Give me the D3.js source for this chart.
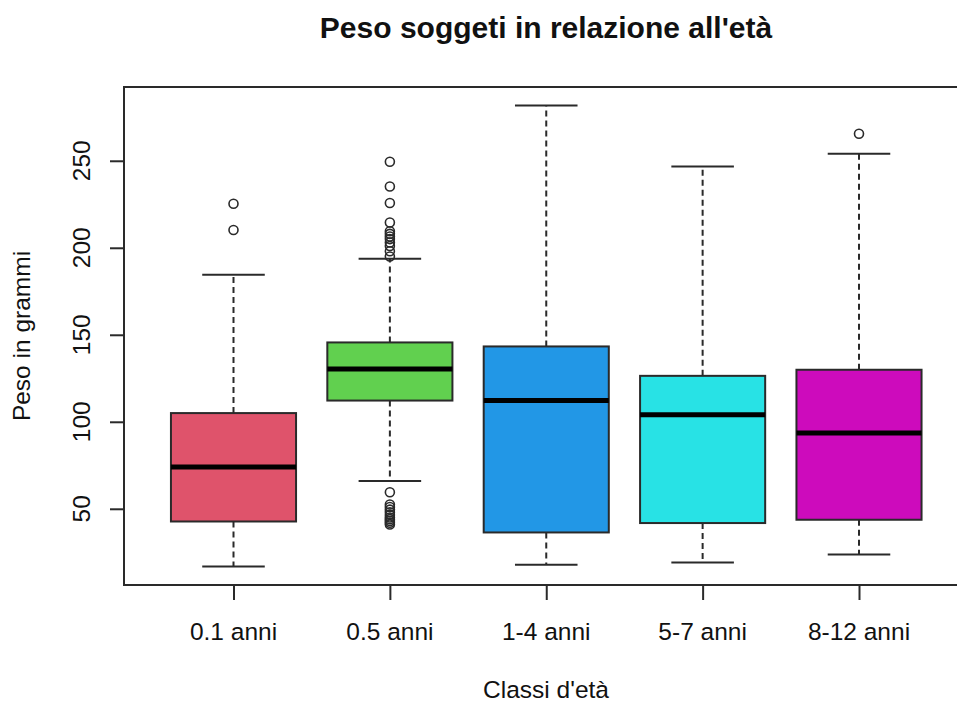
<!DOCTYPE html>
<html>
<head>
<meta charset="utf-8">
<script src="https://cdn.jsdelivr.net/npm/d3@7"></script>
<style>
  html, body { margin: 0; padding: 0; background: #fff; }
  svg { display: block; }
  text { font-family: "Liberation Sans", Arial, sans-serif; fill: #111; }
</style>
</head>
<body>
<svg id="chart" width="957" height="702"></svg>
<script>
// Weight (grams) by age class: box statistics per class
const categories = ["0.1 anni", "0.5 anni", "1-4 anni", "5-7 anni", "8-12 anni"];
const whiskerLow  = [16.8, 65.9, 17.8, 19.2, 23.7];
const q1          = [42.7, 112.2, 36.4, 41.8, 43.7];
const medians     = [74.0, 130.3, 112.2, 104.0, 93.5];
const q3          = [105.0, 145.6, 143.3, 126.4, 129.9];
const whiskerHigh = [184.5, 193.7, 281.8, 246.7, 254.0];
const outliers01  = [225.3, 210.2];
const outliers05  = [249.4, 235.2, 225.7, 214.5, 209.5, 208, 206.5, 205, 203, 201, 198, 195,
                     59.5, 52.5, 51, 49.5, 48, 46.5, 45, 44, 43, 42, 41];
const outliers14  = [];
const outliers57  = [];
const outliers812 = [265.5];
const outliers    = [outliers01, outliers05, outliers14, outliers57, outliers812];
const fills       = ["#DF536B", "#61D04F", "#2297E6", "#28E2E5", "#CD0BBC"];
const yTicks      = [50, 100, 150, 200, 250];

const svg = d3.select("#chart");

const frame = { left: 124, top: 87, right: 968, bottom: 585 };

// y domain: data range padded by 4% on each side
const dataMin = d3.min(whiskerLow), dataMax = d3.max(whiskerHigh);
const pad = (dataMax - dataMin) * 0.04;
const y = d3.scaleLinear().domain([dataMin - pad, dataMax + pad]).range([frame.bottom, frame.top]);
const x = d3.scaleLinear().domain([1, 5]).range([233.5, 859]);
const boxW = x(1.8) - x(1);   // 0.8 of a class slot
const capW = boxW / 2;

const ink = "#2a2a2a";
const axisFont = 24.5;

// plot frame
svg.append("rect")
  .attr("x", frame.left).attr("y", frame.top)
  .attr("width", frame.right - frame.left).attr("height", frame.bottom - frame.top)
  .attr("fill", "none").attr("stroke", ink).attr("stroke-width", 2);

// y axis
const yAxis = svg.append("g").attr("transform", `translate(${frame.left},0)`)
  .call(d3.axisLeft(y).tickValues(yTicks).tickSize(14).tickSizeOuter(0).tickFormat(d3.format("d")));
yAxis.select(".domain").remove();
yAxis.selectAll(".tick line").attr("stroke", ink).attr("stroke-width", 2);
yAxis.selectAll(".tick text").remove();
svg.append("g").selectAll("text").data(yTicks).join("text")
  .attr("transform", d => `translate(90,${y(d)}) rotate(-90)`)
  .attr("text-anchor", "middle")
  .attr("font-size", axisFont)
  .text(d => d);

// x axis
const xAxis = svg.append("g").attr("transform", `translate(0,${frame.bottom})`)
  .call(d3.axisBottom(x).tickValues([1, 2, 3, 4, 5]).tickSize(15).tickSizeOuter(0).tickFormat(""));
xAxis.select(".domain").remove();
xAxis.selectAll(".tick line").attr("stroke", ink).attr("stroke-width", 2);
svg.append("g").selectAll("text").data(categories).join("text")
  .attr("x", (d, i) => x(i + 1)).attr("y", 640)
  .attr("text-anchor", "middle")
  .attr("font-size", axisFont)
  .text(d => d);

// boxes
const g = svg.append("g");
categories.forEach((c, i) => {
  const cx = x(i + 1);
  const dash = "6,4";
  // whiskers
  g.append("line").attr("x1", cx).attr("x2", cx).attr("y1", y(q3[i])).attr("y2", y(whiskerHigh[i]))
    .attr("stroke", ink).attr("stroke-width", 2).attr("stroke-dasharray", dash);
  g.append("line").attr("x1", cx).attr("x2", cx).attr("y1", y(q1[i])).attr("y2", y(whiskerLow[i]))
    .attr("stroke", ink).attr("stroke-width", 2).attr("stroke-dasharray", dash);
  // staples
  [whiskerHigh[i], whiskerLow[i]].forEach(v => {
    g.append("line").attr("x1", cx - capW / 2).attr("x2", cx + capW / 2)
      .attr("y1", y(v)).attr("y2", y(v)).attr("stroke", ink).attr("stroke-width", 2);
  });
  // box
  g.append("rect").attr("x", cx - boxW / 2).attr("width", boxW)
    .attr("y", y(q3[i])).attr("height", y(q1[i]) - y(q3[i]))
    .attr("fill", fills[i]).attr("stroke", ink).attr("stroke-width", 2);
  // median
  g.append("line").attr("x1", cx - boxW / 2).attr("x2", cx + boxW / 2)
    .attr("y1", y(medians[i])).attr("y2", y(medians[i]))
    .attr("stroke", "#000").attr("stroke-width", 5);
  // outliers
  g.selectAll(null).data(outliers[i]).join("circle")
    .attr("cx", cx).attr("cy", d => y(d)).attr("r", 4.5)
    .attr("fill", "none").attr("stroke", ink).attr("stroke-width", 1.6);
});

// titles
svg.append("text").attr("x", (frame.left + frame.right) / 2).attr("y", 38)
  .attr("text-anchor", "middle").attr("font-size", 30).attr("font-weight", "bold")
  .text("Peso soggeti in relazione all'età");
svg.append("text").attr("x", (frame.left + frame.right) / 2).attr("y", 698)
  .attr("text-anchor", "middle").attr("font-size", axisFont)
  .text("Classi d'età");
svg.append("text").attr("transform", `translate(30,${(frame.top + frame.bottom) / 2}) rotate(-90)`)
  .attr("text-anchor", "middle").attr("font-size", axisFont)
  .text("Peso in grammi");
</script>
</body>
</html>
